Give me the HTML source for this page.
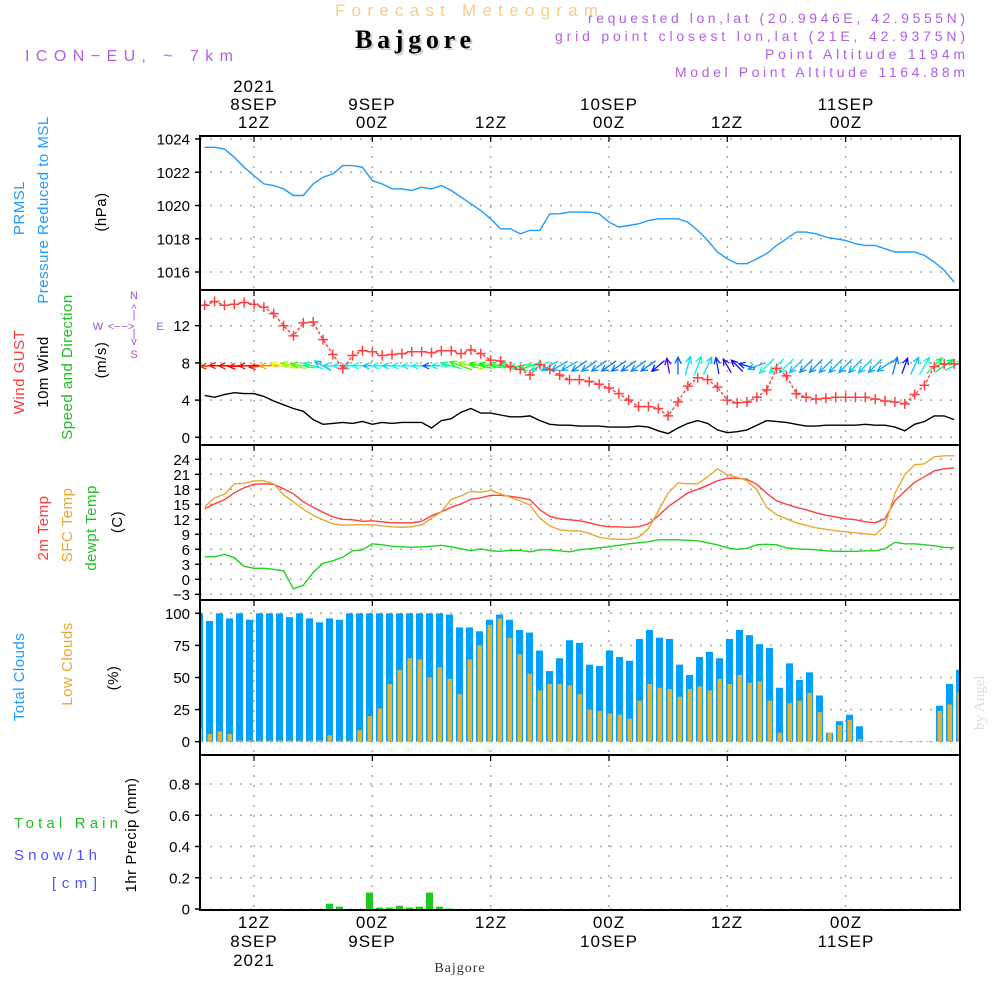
<!DOCTYPE html>
<html><head><meta charset="utf-8"><title>Forecast Meteogram - Bajgore</title>
<style>
html,body{margin:0;padding:0;background:#fff;}
svg{display:block;font-family:"Liberation Sans",sans-serif;}
</style></head>
<body>
<svg id="chart" width="1000" height="1000" viewBox="0 0 1000 1000" xmlns="http://www.w3.org/2000/svg">
<rect x="0" y="0" width="1000" height="1000" fill="#fff"/>
<text x="335" y="16" font-size="17" fill="#f3cf8c" textLength="263" lengthAdjust="spacing">Forecast Meteogram</text>
<text x="357" y="50" font-size="26" font-weight="bold" font-family="Liberation Serif,serif" fill="#c8d4c8" textLength="116" lengthAdjust="spacing">Bajgore</text>
<text x="355" y="48" font-size="26" font-weight="bold" font-family="Liberation Serif,serif" fill="#000" textLength="116" lengthAdjust="spacing">Bajgore</text>
<text x="25" y="61" font-size="16" fill="#b060e8" textLength="208" lengthAdjust="spacing">ICON−EU, ~ 7km</text>
<g font-size="14" fill="#b060e8" lengthAdjust="spacing">
<text x="588" y="23" textLength="377">requested lon,lat (20.9946E, 42.9555N)</text>
<text x="555" y="41" textLength="410">grid point closest lon,lat (21E, 42.9375N)</text>
<text x="765" y="59" textLength="200">Point Altitude 1194m</text>
<text x="675" y="77" textLength="290">Model Point Altitude 1164.88m</text>
</g>
<g font-size="17" fill="#000" text-anchor="middle" letter-spacing="1">
<text x="254" y="92">2021</text><text x="254" y="110">8SEP</text><text x="254" y="128">12Z</text>
<text x="372" y="110">9SEP</text><text x="372" y="128">00Z</text>
<text x="491" y="128">12Z</text>
<text x="609" y="110">10SEP</text><text x="609" y="128">00Z</text>
<text x="727" y="128">12Z</text>
<text x="846" y="110">11SEP</text><text x="846" y="128">00Z</text>
</g>
<g font-size="17" fill="#000" text-anchor="middle" letter-spacing="1">
<text x="254" y="928">12Z</text><text x="254" y="947">8SEP</text><text x="254" y="966">2021</text>
<text x="372" y="928">00Z</text><text x="372" y="947">9SEP</text>
<text x="491" y="928">12Z</text>
<text x="609" y="928">00Z</text><text x="609" y="947">10SEP</text>
<text x="727" y="928">12Z</text>
<text x="846" y="928">00Z</text><text x="846" y="947">11SEP</text>
</g>
<text x="460" y="972" text-anchor="middle" font-size="14" font-family="Liberation Serif,serif" fill="#333" letter-spacing="1">Bajgore</text>
<text transform="translate(984,730) rotate(-90)" font-size="15" font-family="Liberation Serif,serif" fill="#ddd">by Angel</text>

<g font-size="15" letter-spacing="0.5" text-anchor="middle">
<text transform="translate(24,208) rotate(-90)" fill="#1e9bff">PRMSL</text>
<text transform="translate(48,210) rotate(-90)" fill="#1e9bff">Pressure Reduced to MSL</text>
<text transform="translate(106,212) rotate(-90)" fill="#000">(hPa)</text>
<text transform="translate(24,372) rotate(-90)" fill="#ff3a3a">Wind GUST</text>
<text transform="translate(48,372) rotate(-90)" fill="#000">10m Wind</text>
<text transform="translate(72,367) rotate(-90)" fill="#20c020">Speed and Direction</text>
<text transform="translate(106,360) rotate(-90)" fill="#000">(m/s)</text>
<text transform="translate(48,528) rotate(-90)" fill="#ff3a3a">2m Temp</text>
<text transform="translate(72,525) rotate(-90)" fill="#e8a830">SFC Temp</text>
<text transform="translate(96,528) rotate(-90)" fill="#20c020">dewpt Temp</text>
<text transform="translate(122,522) rotate(-90)" fill="#000">(C)</text>
<text transform="translate(24,677) rotate(-90)" fill="#1e9bff">Total Clouds</text>
<text transform="translate(72,664) rotate(-90)" fill="#e8a830">Low Clouds</text>
<text transform="translate(118,678) rotate(-90)" fill="#000">(%)</text>
<text transform="translate(136,835) rotate(-90)" fill="#000">1hr Precip (mm)</text>
</g>
<g font-size="15" lengthAdjust="spacing">
<text x="14" y="828" fill="#20c020" textLength="104">Total  Rain</text>
<text x="14" y="860" fill="#5050ff" textLength="83">Snow/1h</text>
<text x="52" y="888" fill="#5050ff" textLength="45">[cm]</text>
</g>
<g font-size="11" fill="#a050e0" text-anchor="middle">
<text x="134" y="299">N</text>
<text x="134" y="358">S</text>
<text x="98" y="330">W</text>
<text x="160" y="330">E</text>
<text x="134" y="312">^</text><text x="134" y="318">|</text>
<text x="134" y="345">v</text><text x="134" y="337">|</text>
<text x="128" y="330">−&gt;</text><text x="114" y="330">&lt;−</text>
</g>
<g id="plots"></g>
</svg>
<script>
// ---- data (hourly, 8SEP 07Z .. 11SEP 11Z) ----
const hours = [];
for (let h = 7; h <= 83; h++) hours.push(h);
const pressure = [1023.5,1023.5,1023.4,1022.9,1022.3,1021.8,1021.3,1021.2,1021.0,1020.6,1020.6,1021.3,1021.7,1021.9,1022.4,1022.4,1022.3,1021.5,1021.3,1021.0,1021.0,1020.9,1021.1,1021.0,1021.2,1020.9,1020.5,1020.1,1019.7,1019.2,1018.6,1018.6,1018.3,1018.5,1018.5,1019.5,1019.5,1019.6,1019.6,1019.6,1019.5,1019.0,1018.7,1018.8,1018.9,1019.1,1019.2,1019.2,1019.2,1019.0,1018.5,1017.9,1017.2,1016.8,1016.5,1016.5,1016.8,1017.1,1017.6,1018.0,1018.4,1018.4,1018.3,1018.1,1018.0,1017.9,1017.7,1017.6,1017.6,1017.4,1017.2,1017.2,1017.2,1017.0,1016.6,1016.1,1015.4];
const windGust = [14.2,14.6,14.2,14.3,14.5,14.3,14.0,13.3,12.0,10.9,12.3,12.4,10.5,8.9,7.4,8.8,9.3,9.2,8.8,8.9,9.0,9.2,9.2,9.1,9.3,9.3,9.0,9.4,9.0,8.3,8.2,7.6,7.3,6.7,7.8,7.3,6.7,6.2,6.2,6.0,5.7,5.3,4.7,4.0,3.3,3.3,3.1,2.3,3.8,5.5,6.4,6.2,5.4,4.0,3.7,3.8,4.3,5.1,7.4,6.6,4.7,4.3,4.1,4.2,4.3,4.3,4.3,4.3,4.1,3.9,3.8,3.6,4.6,5.6,7.6,7.9,7.9];
const wind10m = [4.5,4.3,4.6,4.8,4.7,4.7,4.4,3.9,3.5,3.1,2.8,1.9,1.4,1.5,1.6,1.5,1.7,1.4,1.6,1.5,1.6,1.6,1.6,1.0,1.8,2.0,2.7,3.1,2.6,2.6,2.4,2.2,2.2,2.3,1.8,1.4,1.3,1.3,1.2,1.2,1.2,1.1,1.1,1.1,1.2,1.1,0.7,0.4,1.0,1.5,1.8,1.5,0.8,0.5,0.6,0.8,1.3,1.8,1.7,1.6,1.4,1.2,1.2,1.3,1.3,1.3,1.3,1.4,1.3,1.3,1.1,0.7,1.4,1.7,2.3,2.3,1.9];
const windDir = [180,182,178,180,183,180,185,180,170,168,170,165,150,180,180,180,180,180,180,180,180,180,180,180,180,165,160,165,168,170,170,172,190,200,205,210,210,210,215,215,215,215,215,215,215,215,220,100,90,75,70,65,100,120,135,165,200,225,225,225,225,225,225,225,225,225,225,225,225,215,75,70,65,60,45,35,25];
const temp2m = [14.1,15.1,15.9,17.3,18.3,19.0,19.1,19.0,18.1,17.1,15.5,14.4,13.4,12.5,12.0,11.9,11.6,11.7,11.5,11.3,11.3,11.3,11.6,12.7,13.5,14.4,15.1,16.0,16.3,16.8,16.8,16.6,16.3,15.9,13.9,12.6,12.1,11.9,11.7,11.3,10.8,10.5,10.5,10.4,10.5,11.1,12.7,14.5,15.9,17.3,18.0,18.8,19.7,20.2,20.2,20.0,19.0,17.2,15.7,15.0,14.4,13.9,13.3,12.8,12.5,12.1,11.9,11.5,11.3,12.1,15.7,17.6,19.4,20.5,21.7,22.1,22.3];
const tempSfc = [14.5,16.3,17.0,19.1,19.2,19.7,19.7,19.1,16.9,15.5,14.0,12.8,11.9,11.1,10.8,10.9,10.9,10.9,10.7,10.5,10.4,10.5,10.9,12.2,13.5,16.0,16.7,17.6,17.4,17.8,17.1,16.4,15.7,14.8,12.2,10.7,9.9,9.7,9.7,9.2,8.4,8.1,8.0,8.0,8.4,10.1,13.7,17.2,19.3,19.1,19.1,20.5,22.1,20.9,20.4,19.7,17.9,14.4,12.9,12.1,11.3,10.8,10.3,10.0,9.7,9.5,9.3,9.1,8.9,10.7,17.2,20.9,22.9,23.1,24.5,24.7,24.7];
const dewpoint = [4.5,4.5,5.0,4.3,2.6,2.2,2.2,2.0,1.7,-1.9,-1.2,1.4,3.2,3.7,4.4,5.7,5.9,7.1,6.9,6.6,6.5,6.4,6.5,6.6,6.8,6.5,6.1,5.7,6.1,5.7,5.6,5.8,5.8,5.5,5.9,5.9,5.7,5.5,5.9,6.1,6.3,6.5,6.8,7.1,7.3,7.5,7.9,7.9,7.9,7.8,7.7,7.3,6.9,6.3,6.0,6.2,6.9,7.0,6.9,6.3,6.1,6.0,5.9,5.7,5.6,5.6,5.6,5.7,5.7,6.1,7.4,7.1,7.1,6.9,6.7,6.4,6.3];
const totalClouds = [100,94,100,96,100,95,100,100,100,97,100,96,93,96,95,100,100,100,100,100,100,100,100,100,100,99,89,89,86,95,99,95,87,85,71,55,65,79,77,60,59,71,66,63,80,87,81,80,60,52,66,70,65,80,87,83,76,73,42,61,48,54,36,7,16,21,12,0,0,0,0,0,0,0,28,45,56];
const lowClouds = [11,6,8,6,1,1,1,1,1,1,1,1,1,5,1,1,9,20,26,45,56,65,64,50,58,49,37,64,75,91,96,81,68,53,40,45,45,44,37,25,24,22,21,18,32,45,42,41,35,41,43,40,49,45,52,46,47,32,7,30,32,38,23,7,13,17,2,0,0,0,0,0,0,0,24,29,39];
const precipHours = [20,21,24,25,26,27,28,29,30,31,32];
const precipValues = [0.034,0.015,0.105,0.009,0.009,0.021,0.009,0.015,0.105,0.015,0.003];
const pressureTicks = [1016,1018,1020,1022,1024];
const windTicks = [0,4,8,12];
const tempTicks = [-3,0,3,6,9,12,15,18,21,24];
const cloudTicks = [0,25,50,75,100];
const precipTicks = [0,0.2,0.4,0.6,0.8];
const gridHours = [12,24,36,48,60,72];

const NS = "http://www.w3.org/2000/svg";
const root = document.getElementById('plots');
const L = 200, R = 960;
const X = h => 254 + (h - 12) * 9.86;
const BX = h => 199.5 + (h - 7) * 10;
const lin = (v0, y0, v1, y1) => v => y0 + (v - v0) * (y1 - y0) / (v1 - v0);
const panels = [
  {name:'pressure', top:136, bot:290, y:lin(1024,139,1016,272), ticks:pressureTicks, fmt:v=>String(v)},
  {name:'wind', top:290, bot:445, y:lin(0,437.3,12,325.7), ticks:windTicks, fmt:v=>String(v)},
  {name:'temperature', top:445, bot:600, y:lin(0,579.3,24,459.3), ticks:tempTicks, fmt:v=>v<0?'−'+(-v):String(v)},
  {name:'clouds', top:600, bot:755, y:lin(0,741.7,100,613.3), ticks:cloudTicks, fmt:v=>String(v)},
  {name:'precip', top:755, bot:910, y:lin(0,909,0.8,784), ticks:precipTicks, fmt:v=>v===0?'0':v.toFixed(1)}
];
function mk(tag, attrs, parent) {
  const e = document.createElementNS(NS, tag);
  for (const k in attrs) e.setAttribute(k, attrs[k]);
  (parent || root).appendChild(e);
  return e;
}
panels.forEach(p => {
  const g = mk('g', {});
  
  
  p.g = g;
  const clip = mk('clipPath', {id: 'clip-' + p.name}, g);
  mk('rect', {x: L, y: p.top, width: R - L, height: p.bot - p.top}, clip);
  p.ticks.forEach(t => {
    const yy = p.y(t);
    const gl = mk('line', {x1: L, x2: R, y1: yy, y2: yy, stroke: '#aaa', 'stroke-width': 1.5, 'stroke-dasharray': '2,8'}, g);
    
    
    mk('line', {x1: L - 5, x2: L, y1: yy, y2: yy, stroke: '#000', 'stroke-width': 1.5}, g);
    const tx = mk('text', {x: L - 10, y: yy + 5.5, 'text-anchor': 'end', 'font-size': 15, fill: '#000'}, g);
    
    
    tx.textContent = p.fmt(t);
  });
  gridHours.forEach(h => {
    const gl = mk('line', {x1: X(h), x2: X(h), y1: p.top, y2: p.bot, stroke: '#aaa', 'stroke-width': 1.5, 'stroke-dasharray': '2,8'}, g);
    
    
    mk('line', {x1: X(h), x2: X(h), y1: p.top, y2: p.top + 6, stroke: '#000', 'stroke-width': 1.2}, g);
  });
  p.plot = mk('g', {'clip-path': 'url(#clip-' + p.name + ')'}, g);
});
function line(p, vals, color, name, dash) {
  const d = vals.map((v, i) => (i ? 'L' : 'M') + X(hours[i]).toFixed(1) + ',' + p.y(v).toFixed(1)).join('');
  const e = mk('path', {d: d, fill: 'none', stroke: color, 'stroke-width': 1.4}, p.plot);
  if (dash) e.setAttribute('stroke-dasharray', dash);
  
  
  return e;
}
// pressure
line(panels[0], pressure, '#1e9bff', 'pressure-line');
// wind
const pw = panels[1];
function speedColor(s) { const hue = Math.max(0, 280 - s * 62); return 'hsl(' + hue + ',95%,50%)'; }
windDir.forEach((dir, i) => {
  const s = wind10m[i];
  const len = 14 + 3.5 * s;
  const a = dir * Math.PI / 180;
  const cx = X(hours[i]), cy = pw.y(8) + 3;
  const dx = Math.cos(a) * len, dy = -Math.sin(a) * len;
  const x1 = cx - dx / 2, y1 = cy - dy / 2, x2 = cx + dx / 2, y2 = cy + dy / 2;
  const hl = 7, b1 = a + Math.PI - 0.45, b2 = a + Math.PI + 0.45;
  const col = speedColor(s);
  const ar = mk('path', {d: 'M' + x1 + ',' + y1 + 'L' + x2 + ',' + y2 + 'M' + (x2 + Math.cos(b1) * hl) + ',' + (y2 - Math.sin(b1) * hl) + 'L' + x2 + ',' + y2 + 'L' + (x2 + Math.cos(b2) * hl) + ',' + (y2 - Math.sin(b2) * hl), fill: 'none', stroke: col, 'stroke-width': 1.3}, pw.plot);
  
  
});
line(pw, wind10m, '#000', 'wind-10m-line');
line(pw, windGust, '#ff4040', 'wind-gust-line', '3,2');
windGust.forEach((v, i) => {
  const x = X(hours[i]), y = pw.y(v);
  const m = mk('path', {d: 'M' + (x - 5) + ',' + y + 'h10M' + x + ',' + (y - 5) + 'v10', stroke: '#ff4040', 'stroke-width': 1.5}, pw.plot);
  
  
});
// temperature
const pt = panels[2];
line(pt, temp2m, '#ff4040', 'temp-2m-line');
line(pt, tempSfc, '#e8a830', 'temp-sfc-line');
line(pt, dewpoint, '#20d020', 'dewpoint-line');
// clouds
const pc = panels[3];
totalClouds.forEach((v, i) => {
  const x = BX(hours[i]), y0 = pc.y(0), y = pc.y(v);
  const b = mk('rect', {x: x - 3.5, y: Math.min(y, y0 - 0.7), width: 7, height: Math.max(y0 - y, 0.7), fill: v > 0 ? '#00a0ff' : '#bbb'}, pc.plot);
  
  
});
lowClouds.forEach((v, i) => {
  if (v <= 0) return;
  const x = BX(hours[i]), y0 = pc.y(0), y = pc.y(v);
  const b = mk('rect', {x: x - 2, y: y, width: 4.5, height: y0 - y, fill: '#e8b030'}, pc.plot);
  
  
});
// precip
const pp = panels[4];
precipValues.forEach((v, i) => {
  const x = BX(precipHours[i]), y0 = pp.y(0), y = pp.y(v);
  const b = mk('rect', {x: x - 3.5, y: y, width: 7, height: y0 - y, fill: '#20c820'}, pp.plot);
  
  
});
// frames
panels.forEach(p => {
  const f = mk('rect', {x: L, y: p.top, width: R - L, height: p.bot - p.top, fill: 'none', stroke: '#000', 'stroke-width': 2}, p.g);
  
  
});
</script>
</body></html>
